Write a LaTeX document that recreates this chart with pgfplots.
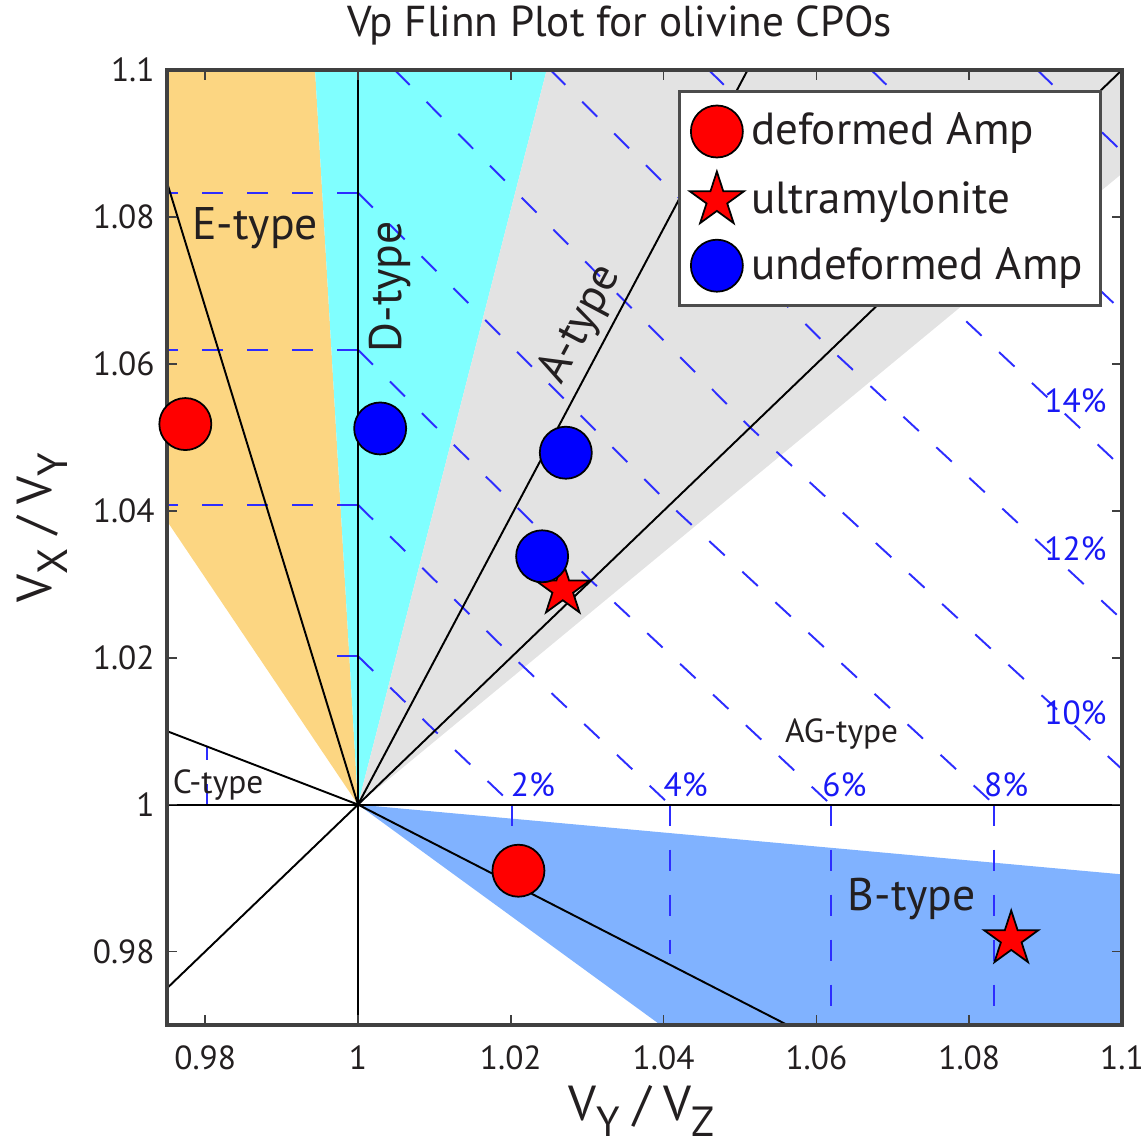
\documentclass[border=0pt]{standalone}
\usepackage{fontspec}
\setmainfont{PT Sans}
\usepackage{pgfplots}
\pgfplotsset{compat=1.18}
\definecolor{eorange}{RGB}{252,214,130}
\definecolor{dcyan}{RGB}{128,255,255}
\definecolor{agrey}{RGB}{227,227,227}
\definecolor{bblue}{RGB}{128,178,255}
\definecolor{dashblue}{RGB}{45,45,255}
\definecolor{txtblue}{RGB}{25,25,245}
\definecolor{txt}{RGB}{35,31,32}
\pgfdeclareplotmark{fivestar}{%
  \pgfpathmoveto{\pgfpointpolar{90}{\pgfplotmarksize}}%
  \pgfpathlineto{\pgfpointpolar{126}{0.382*\pgfplotmarksize}}%
  \pgfpathlineto{\pgfpointpolar{162}{\pgfplotmarksize}}%
  \pgfpathlineto{\pgfpointpolar{198}{0.382*\pgfplotmarksize}}%
  \pgfpathlineto{\pgfpointpolar{234}{\pgfplotmarksize}}%
  \pgfpathlineto{\pgfpointpolar{270}{0.382*\pgfplotmarksize}}%
  \pgfpathlineto{\pgfpointpolar{306}{\pgfplotmarksize}}%
  \pgfpathlineto{\pgfpointpolar{342}{0.382*\pgfplotmarksize}}%
  \pgfpathlineto{\pgfpointpolar{18}{\pgfplotmarksize}}%
  \pgfpathlineto{\pgfpointpolar{54}{0.382*\pgfplotmarksize}}%
  \pgfpathclose
  \pgfusepathqfillstroke
}
\pgfplotsset{
  dl/.style={dashblue, line width=0.55pt, dash pattern=on 6pt off 6.8pt, forget plot},
  bl/.style={black, line width=0.55pt, forget plot},
}
\begin{document}
\begin{tikzpicture}[
  lab/.style={font=\fontsize{13}{15}\selectfont, text=txt},
  slab/.style={font=\fontsize{9.5}{11}\selectfont, text=txt},
  plab/.style={font=\fontsize{9.5}{11}\selectfont, text=txtblue},
]
\begin{axis}[
  scale only axis, width=9.55cm, height=9.55cm,
  xmin=0.975, xmax=1.1, ymin=0.97, ymax=1.1,
  xtick={0.98,1,1.02,1.04,1.06,1.08,1.1},
  xticklabels={0.98,1,1.02,1.04,1.06,1.08,1.1},
  ytick={0.98,1,1.02,1.04,1.06,1.08,1.1},
  yticklabels={0.98,1,1.02,1.04,1.06,1.08,1.1},
  tick align=inside, major tick length=0.1cm,
  tick style={black!75, line width=0.5pt},
  axis line style={black!75, line width=0.9pt},
  ticklabel style={font=\fontsize{9.5}{11}\selectfont, text=txt},
  xticklabel style={inner xsep=0pt, yshift=-2.3pt},
  axis on top, clip=false,
  legend style={at={(rel axis cs:0.979,0.979)}, anchor=north east,
    draw=black!70, line width=0.8pt, fill=white,
    font=\fontsize{12.8}{15}\selectfont, text=txt,
    inner xsep=3pt, inner ysep=4pt, row sep=4pt},
  legend cell align=left,
  legend image code/.code={\draw[mark repeat=2,mark phase=2] plot coordinates {(0cm,0cm)(0.27cm,0cm)(0.6cm,0cm)};},
]
% filled regions
\addplot[draw=none, fill=eorange, forget plot] coordinates {(1,1) (0.975,1.0386) (0.975,1.1) (0.99438,1.1)};
\addplot[draw=none, fill=dcyan, forget plot] coordinates {(1,1) (0.99438,1.1) (1.0247,1.1)};
\addplot[draw=none, fill=agrey, forget plot] coordinates {(1,1) (1.0247,1.1) (1.1,1.1) (1.1,1.0859)};
\addplot[draw=none, fill=bblue, forget plot] coordinates {(1,1) (1.1,0.9905) (1.1,0.97) (1.0396,0.97)};
% anisotropy contours
\addplot[dl] coordinates {(1,1.0202) (0.997,1.0202)};
\addplot[dl] coordinates {(0.9802,1) (0.9802,1.0078)};
\addplot[dl] coordinates {(1,1.0408) (0.975,1.0408)};
\addplot[dl] coordinates {(1,1.0619) (0.975,1.0619)};
\addplot[dl] coordinates {(1,1.0833) (0.975,1.0833)};
\addplot[dl] coordinates {(1,1.0202) (1.01005,1.01005) (1.0202,1)};
\addplot[dl] coordinates {(1,1.0408) (1.0202,1.0202) (1.0408,1)};
\addplot[dl] coordinates {(1,1.0619) (1.03049,1.03049) (1.0619,1)};
\addplot[dl] coordinates {(1,1.0833) (1.04082,1.04082) (1.0833,1)};
\addplot[dl] coordinates {(1.00482,1.1) (1.05133,1.05133) (1.1,1.00482)};
\addplot[dl] coordinates {(1.02518,1.1) (1.06193,1.06193) (1.1,1.02518)};
\addplot[dl] coordinates {(1.04591,1.1) (1.07261,1.07261) (1.1,1.04591)};
\addplot[dl] coordinates {(1.06718,1.1) (1.08347,1.08347) (1.1,1.06718)};
\addplot[dl] coordinates {(1.08891,1.1) (1.09444,1.09444) (1.1,1.08891)};
\addplot[dl] coordinates {(1.0202,1) (1.0202,0.99)};
\addplot[dl] coordinates {(1.0408,1) (1.0408,0.9796)};
\addplot[dl] coordinates {(1.0619,1) (1.0619,0.97)};
\addplot[dl] coordinates {(1.0833,1) (1.0833,0.97)};
% black boundary lines
\addplot[bl] coordinates {(1,0.97) (1,1.1)};
\addplot[bl] coordinates {(0.975,1) (1.1,1)};
\addplot[bl] coordinates {(1,1) (0.975,1.0847)};
\addplot[bl] coordinates {(0.975,1.0100) (1,1)};
\addplot[bl] coordinates {(0.975,0.975) (1.1,1.1)};
\addplot[bl] coordinates {(1,1) (1.051,1.1)};
\addplot[bl] coordinates {(1,1) (1.0562,0.97)};
% labels
\node[lab] at (axis cs:0.98654,1.07845) {E-type};
\node[lab, rotate=90] at (axis cs:1.0042,1.0705) {D-type};
\node[lab, rotate=62] at (axis cs:1.0292,1.0654) {A-type};
\node[lab] at (axis cs:1.0725,0.98718) {B-type};
\node[slab] at (axis cs:1.0633,1.00955) {AG-type};
\node[slab] at (axis cs:0.9817,1.0027) {C-type};
\node[plab] at (axis cs:1.02288,1.00273) {2\%};
\node[plab] at (axis cs:1.04288,1.00273) {4\%};
\node[plab] at (axis cs:1.06366,1.00273) {6\%};
\node[plab] at (axis cs:1.08484,1.00273) {8\%};
\node[plab] at (axis cs:1.0939,1.01255) {10\%};
\node[plab] at (axis cs:1.0939,1.0348) {12\%};
\node[plab] at (axis cs:1.0939,1.0550) {14\%};
% title and axis labels
\node[font=\fontsize{12.3}{14}\selectfont, text=txt, inner sep=0pt] at (rel axis cs:0.474,1.047) {Vp Flinn Plot for olivine CPOs};
\node[font=\fontsize{14}{16}\selectfont, text=txt, inner sep=0pt] at (rel axis cs:0.497,-0.090) {V\raisebox{-4.5pt}{\fontsize{12}{14}\selectfont Y} / V\raisebox{-4.5pt}{\fontsize{12}{14}\selectfont Z}};
\node[font=\fontsize{14}{16}\selectfont, text=txt, rotate=90, inner sep=0pt] at (rel axis cs:-0.131,0.521) {V\raisebox{-4.5pt}{\fontsize{12}{14}\selectfont X} / V\raisebox{-4.5pt}{\fontsize{12}{14}\selectfont Y}};
% data points
\addplot[only marks, mark=*, mark size=2.6mm, draw=black, fill=red, line width=0.5pt] coordinates {(0.9774,1.0518) (1.0210,0.9910)};
\addlegendentry{deformed Amp}
\addplot[only marks, mark=fivestar, mark size=2.85mm, draw=black, fill=red, line width=0.5pt] coordinates {(1.0268,1.0293) (1.0855,0.9817)};
\addlegendentry{ultramylonite}
\addplot[only marks, mark=*, mark size=2.6mm, draw=black, fill=blue, line width=0.5pt] coordinates {(1.0029,1.0512) (1.0272,1.0479) (1.0241,1.0338)};
\addlegendentry{undeformed Amp}
\end{axis}
\path (-1.67cm,-1.19cm) rectangle (9.79cm,10.25cm);
\end{tikzpicture}
\end{document}
